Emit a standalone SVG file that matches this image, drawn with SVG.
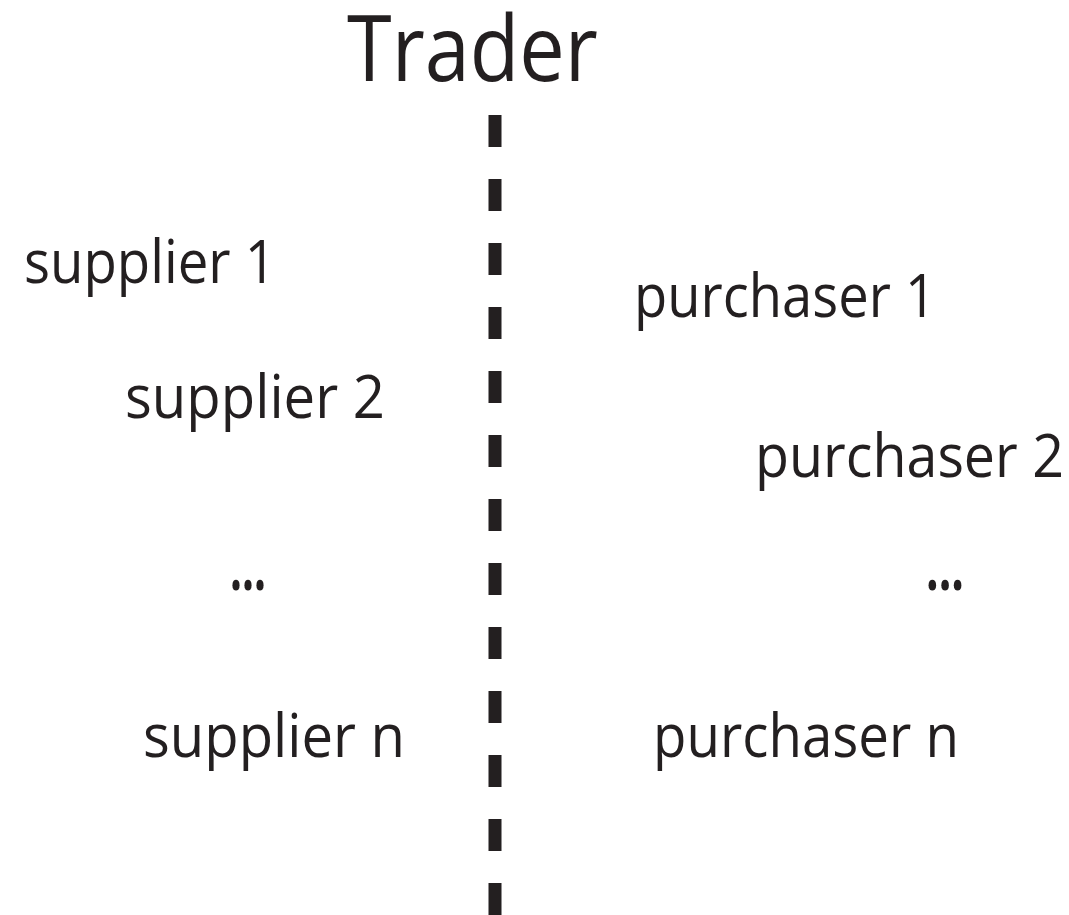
<svg xmlns="http://www.w3.org/2000/svg" width="1069" height="915" viewBox="0 0 1069 915">
<style>
.t{font-family:"Open Sans","Noto Sans",sans-serif;fill:#231f20;font-size:60px}
.d{font-family:"Open Sans","Noto Sans",sans-serif;fill:#231f20;font-size:64px;font-weight:700}
.title{font-family:"Open Sans","Noto Sans",sans-serif;fill:#231f20;font-size:92px}
</style>
<rect width="1069" height="915" fill="#ffffff"/>
<g id="trader"><text class="title" x="347" y="81" textLength="251" lengthAdjust="spacingAndGlyphs">Trader</text></g>
<g id="connectors"><line x1="495" y1="115" x2="495" y2="915" stroke="#231f20" stroke-width="13" stroke-dasharray="32 32"/></g>
<g id="supplier1"><text class="t" x="24" y="283" textLength="252" lengthAdjust="spacingAndGlyphs">supplier 1</text></g>
<g id="supplier2"><text class="t" x="125" y="418" textLength="260" lengthAdjust="spacingAndGlyphs">supplier 2</text></g>
<g id="supplierdots"><text class="d" x="230" y="590" textLength="36" lengthAdjust="spacingAndGlyphs">...</text></g>
<g id="suppliern"><text class="t" x="143" y="757" textLength="262" lengthAdjust="spacingAndGlyphs">supplier n</text></g>
<g id="purchaser1"><text class="t" x="634" y="317" textLength="302" lengthAdjust="spacingAndGlyphs">purchaser 1</text></g>
<g id="purchaser2"><text class="t" x="755" y="477" textLength="309" lengthAdjust="spacingAndGlyphs">purchaser 2</text></g>
<g id="purchaserdots"><text class="d" x="926" y="590" textLength="38" lengthAdjust="spacingAndGlyphs">...</text></g>
<g id="purchasern"><text class="t" x="653" y="757" textLength="306" lengthAdjust="spacingAndGlyphs">purchaser n</text></g>
</svg>
